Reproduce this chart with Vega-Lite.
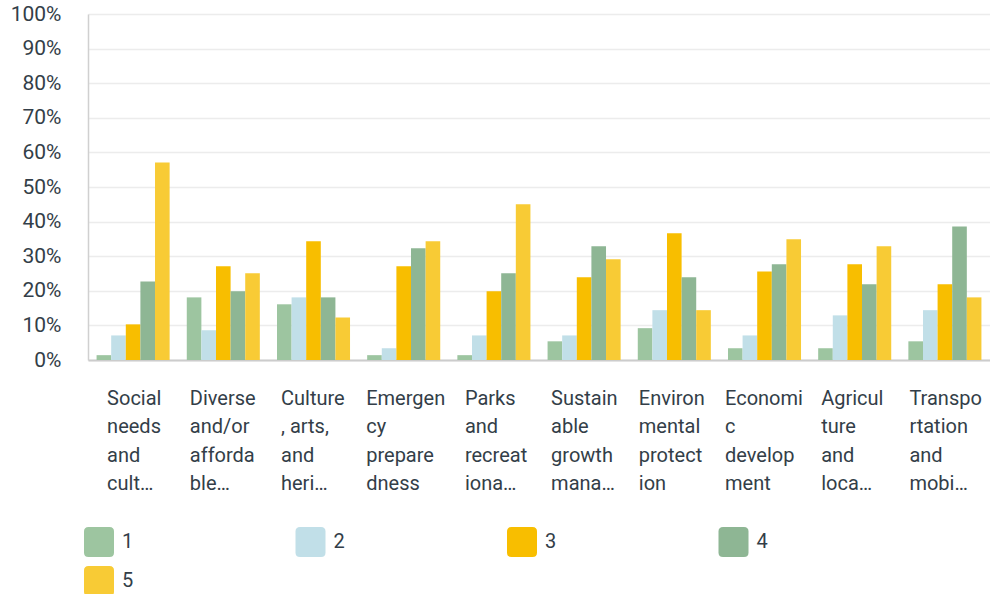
{
  "$schema": "https://vega.github.io/schema/vega-lite/v6.json",
  "width": 902,
  "height": 346,
  "autosize": {"type": "none"},
  "padding": {"left": 88, "top": 14, "right": 0, "bottom": 234},
  "background": "white",
  "config": {"view": {"stroke": null}, "font": "Roboto"},
  "data": {
    "values": [
      {"area": "Social\nneeds\nand\ncult…", "rating": "1", "pct": 1.4},
      {"area": "Social\nneeds\nand\ncult…", "rating": "2", "pct": 7.1},
      {"area": "Social\nneeds\nand\ncult…", "rating": "3", "pct": 10.3},
      {"area": "Social\nneeds\nand\ncult…", "rating": "4", "pct": 22.7},
      {"area": "Social\nneeds\nand\ncult…", "rating": "5", "pct": 57.1},
      {"area": "Diverse\nand/or\nafforda\nble…", "rating": "1", "pct": 18.1},
      {"area": "Diverse\nand/or\nafforda\nble…", "rating": "2", "pct": 8.6},
      {"area": "Diverse\nand/or\nafforda\nble…", "rating": "3", "pct": 27.1},
      {"area": "Diverse\nand/or\nafforda\nble…", "rating": "4", "pct": 19.9},
      {"area": "Diverse\nand/or\nafforda\nble…", "rating": "5", "pct": 25.1},
      {"area": "Culture\n, arts,\nand\nheri…", "rating": "1", "pct": 16.1},
      {"area": "Culture\n, arts,\nand\nheri…", "rating": "2", "pct": 18.1},
      {"area": "Culture\n, arts,\nand\nheri…", "rating": "3", "pct": 34.3},
      {"area": "Culture\n, arts,\nand\nheri…", "rating": "4", "pct": 18.1},
      {"area": "Culture\n, arts,\nand\nheri…", "rating": "5", "pct": 12.3},
      {"area": "Emergen\ncy\nprepare\ndness", "rating": "1", "pct": 1.4},
      {"area": "Emergen\ncy\nprepare\ndness", "rating": "2", "pct": 3.4},
      {"area": "Emergen\ncy\nprepare\ndness", "rating": "3", "pct": 27.1},
      {"area": "Emergen\ncy\nprepare\ndness", "rating": "4", "pct": 32.3},
      {"area": "Emergen\ncy\nprepare\ndness", "rating": "5", "pct": 34.3},
      {"area": "Parks\nand\nrecreat\niona…", "rating": "1", "pct": 1.4},
      {"area": "Parks\nand\nrecreat\niona…", "rating": "2", "pct": 7.1},
      {"area": "Parks\nand\nrecreat\niona…", "rating": "3", "pct": 19.9},
      {"area": "Parks\nand\nrecreat\niona…", "rating": "4", "pct": 25.1},
      {"area": "Parks\nand\nrecreat\niona…", "rating": "5", "pct": 45.0},
      {"area": "Sustain\nable\ngrowth\nmana…", "rating": "1", "pct": 5.4},
      {"area": "Sustain\nable\ngrowth\nmana…", "rating": "2", "pct": 7.1},
      {"area": "Sustain\nable\ngrowth\nmana…", "rating": "3", "pct": 23.9},
      {"area": "Sustain\nable\ngrowth\nmana…", "rating": "4", "pct": 32.9},
      {"area": "Sustain\nable\ngrowth\nmana…", "rating": "5", "pct": 29.1},
      {"area": "Environ\nmental\nprotect\nion", "rating": "1", "pct": 9.2},
      {"area": "Environ\nmental\nprotect\nion", "rating": "2", "pct": 14.4},
      {"area": "Environ\nmental\nprotect\nion", "rating": "3", "pct": 36.6},
      {"area": "Environ\nmental\nprotect\nion", "rating": "4", "pct": 23.9},
      {"area": "Environ\nmental\nprotect\nion", "rating": "5", "pct": 14.4},
      {"area": "Economi\nc\ndevelop\nment", "rating": "1", "pct": 3.4},
      {"area": "Economi\nc\ndevelop\nment", "rating": "2", "pct": 7.1},
      {"area": "Economi\nc\ndevelop\nment", "rating": "3", "pct": 25.6},
      {"area": "Economi\nc\ndevelop\nment", "rating": "4", "pct": 27.7},
      {"area": "Economi\nc\ndevelop\nment", "rating": "5", "pct": 34.9},
      {"area": "Agricul\nture\nand\nloca…", "rating": "1", "pct": 3.4},
      {"area": "Agricul\nture\nand\nloca…", "rating": "2", "pct": 12.9},
      {"area": "Agricul\nture\nand\nloca…", "rating": "3", "pct": 27.7},
      {"area": "Agricul\nture\nand\nloca…", "rating": "4", "pct": 21.9},
      {"area": "Agricul\nture\nand\nloca…", "rating": "5", "pct": 32.9},
      {"area": "Transpo\nrtation\nand\nmobi…", "rating": "1", "pct": 5.4},
      {"area": "Transpo\nrtation\nand\nmobi…", "rating": "2", "pct": 14.4},
      {"area": "Transpo\nrtation\nand\nmobi…", "rating": "3", "pct": 21.9},
      {"area": "Transpo\nrtation\nand\nmobi…", "rating": "4", "pct": 38.6},
      {"area": "Transpo\nrtation\nand\nmobi…", "rating": "5", "pct": 18.1}
    ]
  },
  "mark": {"type": "bar"},
  "encoding": {
    "x": {
      "field": "area",
      "type": "nominal",
      "sort": null,
      "scale": {"paddingInner": 0.19, "paddingOuter": 0.095},
      "axis": {
        "title": null,
        "ticks": false,
        "tickSize": 0,
        "grid": false,
        "domain": true,
        "domainColor": "#cccccc",
        "domainWidth": 2,
        "labelAngle": 0,
        "labelAlign": "left",
        "labelBaseline": "top",
        "labelFontSize": 20,
        "labelLineHeight": 28.5,
        "labelColor": "#333e48",
        "labelPadding": 28,
        "labelOverlap": false,
        "labelLimit": 0,
        "labelExpr": "split(datum.label, '\\n')",
        "labelOffset": {
          "condition": [
            {"test": "indexof(datum.value, 'Social') == 0", "value": -26},
            {"test": "indexof(datum.value, 'Diverse') == 0", "value": -33.5},
            {"test": "indexof(datum.value, 'Culture') == 0", "value": -32.5},
            {"test": "indexof(datum.value, 'Emergen') == 0", "value": -37.5},
            {"test": "indexof(datum.value, 'Parks') == 0", "value": -29},
            {"test": "indexof(datum.value, 'Sustain') == 0", "value": -33},
            {"test": "indexof(datum.value, 'Environ') == 0", "value": -35.5},
            {"test": "indexof(datum.value, 'Economi') == 0", "value": -39.5},
            {"test": "indexof(datum.value, 'Agricul') == 0", "value": -33.5},
            {"test": "indexof(datum.value, 'Transpo') == 0", "value": -35.5}
          ],
          "value": -33
        }
      }
    },
    "xOffset": {
      "field": "rating",
      "type": "nominal",
      "scale": {"paddingInner": 0, "paddingOuter": 0}
    },
    "y": {
      "field": "pct",
      "type": "quantitative",
      "scale": {"domain": [0, 100], "nice": false},
      "axis": {
        "title": null,
        "ticks": false,
        "tickSize": 0,
        "values": [0, 10, 20, 30, 40, 50, 60, 70, 80, 90, 100],
        "labelExpr": "datum.value + '%'",
        "labelFontSize": 21,
        "labelColor": "#333e48",
        "labelPadding": 27,
        "domain": true,
        "domainColor": "#d0d0d0",
        "domainWidth": 1.5,
        "grid": true,
        "gridColor": "#ececec",
        "gridWidth": 1.5
      }
    },
    "color": {
      "field": "rating",
      "type": "nominal",
      "scale": {
        "domain": ["1", "2", "3", "4", "5"],
        "range": ["#9dc5a0", "#c1dfe8", "#f8be00", "#8eb694", "#f8cb35"]
      },
      "legend": {
        "title": null,
        "orient": "none",
        "legendX": -4,
        "legendY": 513,
        "direction": "horizontal",
        "columns": 4,
        "padding": 0,
        "symbolType": "M -1 -0.7 Q -1 -1 -0.7 -1 L 0.7 -1 Q 1 -1 1 -0.7 L 1 0.7 Q 1 1 0.7 1 L -0.7 1 Q -1 1 -1 0.7 Z",
        "symbolSize": 900,
        "symbolStrokeWidth": 0,
        "symbolOpacity": 1,
        "labelFontSize": 20,
        "labelColor": "#333e48",
        "labelOffset": 8,
        "columnPadding": 161.5,
        "rowPadding": 9
      }
    }
  }
}
